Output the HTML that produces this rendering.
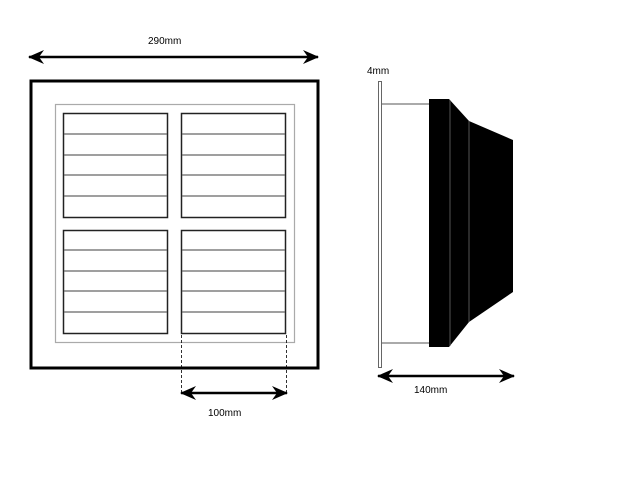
<!DOCTYPE html>
<html><head><style>body{margin:0;background:#fff}svg{display:block}text{font-family:"Liberation Sans",sans-serif;font-size:10px;fill:#000}</style></head><body>
<svg width="628" height="500" viewBox="0 0 628 500">
<defs><marker id="a" viewBox="0 0 16 14" refX="15" refY="7" markerWidth="16" markerHeight="14" markerUnits="userSpaceOnUse" orient="auto-start-reverse"><path d="M0,0 L16,7 L0,14 L5,7 Z" fill="#000"/></marker></defs>
<line x1="29" y1="57" x2="318" y2="57" stroke="#000" stroke-width="2.5" marker-start="url(#a)" marker-end="url(#a)"/>
<text x="148" y="44">290mm</text>
<rect x="31" y="81" width="287" height="287" fill="none" stroke="#000" stroke-width="3"/>
<rect x="55.5" y="104.5" width="239" height="238" fill="none" stroke="#aaa" stroke-width="1.2"/>
<g fill="none" stroke="#222" stroke-width="1.5">
<rect x="63.5" y="113.5" width="104" height="104"/><rect x="181.5" y="113.5" width="104" height="104"/>
<rect x="63.5" y="230.5" width="104" height="103"/><rect x="181.5" y="230.5" width="104" height="103"/></g>
<g stroke="#666" stroke-width="1.2">
<path d="M64 134H167M64 155H167M64 175H167M64 196H167M182 134H285M182 155H285M182 175H285M182 196H285M64 250H167M64 271H167M64 291H167M64 312H167M182 250H285M182 271H285M182 291H285M182 312H285"/></g>
<g stroke="#000" stroke-width="0.8" stroke-dasharray="3,2"><line x1="181.5" y1="335" x2="181.5" y2="394"/><line x1="286.5" y1="335" x2="286.5" y2="394"/></g>
<line x1="181" y1="393" x2="287" y2="393" stroke="#000" stroke-width="2.5" marker-start="url(#a)" marker-end="url(#a)"/>
<text x="208" y="416">100mm</text>
<text x="367" y="74">4mm</text>
<rect x="378.5" y="81.5" width="3" height="286" fill="#fff" stroke="#666" stroke-width="1"/>
<g stroke="#777" stroke-width="1.2"><line x1="382" y1="104" x2="430" y2="104"/><line x1="382" y1="343" x2="430" y2="343"/></g>
<path d="M429 99H449L469 121L513 140V292L469 322L449 347H429Z" fill="#000"/>
<g stroke="#555" stroke-width="1"><line x1="450" y1="100" x2="450" y2="346"/><line x1="469" y1="121" x2="469" y2="322"/></g>
<line x1="378" y1="376" x2="514" y2="376" stroke="#000" stroke-width="2.5" marker-start="url(#a)" marker-end="url(#a)"/>
<text x="414" y="393">140mm</text>
</svg></body></html>
